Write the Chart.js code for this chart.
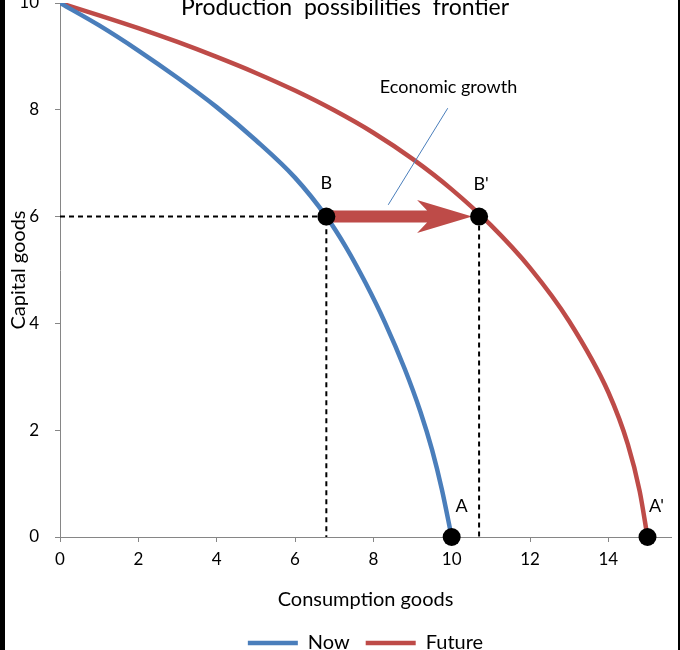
<!DOCTYPE html>
<html>
<head>
<meta charset="utf-8">
<title>Production possibilities frontier</title>
<script src="https://cdn.jsdelivr.net/npm/chart.js@4.4.1/dist/chart.umd.min.js"></script>
<style>
  html, body { margin: 0; padding: 0; background: #fff; overflow: hidden; }
  #wrap { position: relative; width: 680px; height: 650px; overflow: hidden; background: #fff; }
  #ppf { position: absolute; left: 0; top: -24px; }
  .edge { position: absolute; top: 0; height: 650px; background: #000; }
</style>
</head>
<body>
<div id="wrap">
  <canvas id="ppf" width="680" height="687"></canvas>
  <div class="edge" style="left:0;width:5px"></div>
  <div class="edge" style="left:678px;width:2px"></div>
</div>
<script>
// Data
const nowX = [0, 1, 2, 3, 4, 5, 6, 6.8, 7.3, 7.8, 8.3, 8.8, 9.2, 9.5, 9.75, 10];
const nowY = [10, 9.58, 9.11, 8.6, 8.05, 7.43, 6.73, 6.0, 5.43, 4.76, 4.01, 3.15, 2.35, 1.63, 0.89, 0];

const futureX = [0, 1, 2, 3, 4, 5, 6, 7, 8, 9, 10, 11, 12, 13, 14, 14.5, 14.8, 15];
const futureY = [10, 9.77, 9.53, 9.27, 8.99, 8.69, 8.36, 7.99, 7.57, 7.08, 6.51, 5.84, 5.04, 4.04, 2.71, 1.73, 0.86, 0];

const pointNames = ['B', "B'", 'A', "A'"];
const pointX = [6.8, 10.7, 10, 15];
const pointY = [6, 6, 0, 0];

const xTicks = [0, 2, 4, 6, 8, 10, 12, 14];
const yTicks = [0, 2, 4, 6, 8, 10];

const growthText = 'Economic growth';
const growthTextAt = [9.92, 8.42];
const growthLeader = [[9.9, 8.03], [8.38, 6.22]];

const FONT = 'Lato';
const toXY = (xs, ys) => xs.map((v, i) => ({ x: v, y: ys[i] }));

// dashed guides: B down/left to the axes, B' down to the axis
const guides = [
  { x: 0, y: pointY[0] }, { x: pointX[0], y: pointY[0] }, { x: pointX[0], y: 0 },
  { x: pointX[1], y: null },
  { x: pointX[1], y: pointY[1] }, { x: pointX[1], y: 0 }
];

const titlePlugin = {
  id: 'ppfTitle',
  afterDraw(chart) {
    const ctx = chart.ctx;
    ctx.save();
    ctx.font = '23px ' + FONT;
    ctx.fillStyle = '#000';
    ctx.textAlign = 'center';
    ctx.textBaseline = 'alphabetic';
    ctx.fillText('Production  possibilities  frontier', 345, 39);
    ctx.restore();
  }
};

const arrowPlugin = {
  id: 'growthArrow',
  beforeDatasetsDraw(chart) {
    const { ctx, scales: { x, y } } = chart;
    const x0 = x.getPixelForValue(pointX[0]);
    const yc = y.getPixelForValue(pointY[0]);
    const x1 = x.getPixelForValue(pointX[1]) - 7;
    const shaft = 6, headLen = 55, headHalf = 16.5, notch = 10;
    ctx.save();
    ctx.fillStyle = '#BE4B48';
    ctx.beginPath();
    ctx.moveTo(x0, yc - shaft);
    ctx.lineTo(x1 - headLen + notch, yc - shaft);
    ctx.lineTo(x1 - headLen, yc - headHalf);
    ctx.lineTo(x1, yc);
    ctx.lineTo(x1 - headLen, yc + headHalf);
    ctx.lineTo(x1 - headLen + notch, yc + shaft);
    ctx.lineTo(x0, yc + shaft);
    ctx.closePath();
    ctx.fill();
    ctx.restore();
  }
};

const labelPlugin = {
  id: 'pointLabels',
  afterDatasetsDraw(chart) {
    const { ctx, scales: { x, y } } = chart;
    const offs = [[0, -33], [2, -32], [10, -31], [9, -31]];
    ctx.save();
    ctx.fillStyle = '#000';
    ctx.textAlign = 'center';
    ctx.textBaseline = 'middle';
    ctx.font = '18px ' + FONT;
    pointNames.forEach((t, i) => {
      ctx.fillText(t, x.getPixelForValue(pointX[i]) + offs[i][0], y.getPixelForValue(pointY[i]) + offs[i][1]);
    });

    // economic growth note
    ctx.strokeStyle = '#4A7EBB';
    ctx.lineWidth = 1;
    ctx.beginPath();
    ctx.moveTo(x.getPixelForValue(growthLeader[0][0]), y.getPixelForValue(growthLeader[0][1]));
    ctx.lineTo(x.getPixelForValue(growthLeader[1][0]), y.getPixelForValue(growthLeader[1][1]));
    ctx.stroke();
    ctx.font = '18px ' + FONT;
    ctx.fillText(growthText, x.getPixelForValue(growthTextAt[0]), y.getPixelForValue(growthTextAt[1]));
    ctx.restore();
  }
};

const axisGrid = { display: true, drawOnChartArea: false, drawTicks: true, tickLength: 5, color: '#868686' };
const axisBorder = { display: true, color: '#868686', width: 1 };

new Chart(document.getElementById('ppf'), {
  type: 'scatter',
  data: {
    datasets: [
      {
        label: 'Now',
        data: toXY(nowX, nowY),
        showLine: true,
        borderColor: '#4A7EBB',
        backgroundColor: '#4A7EBB',
        borderWidth: 4.5,
        cubicInterpolationMode: 'monotone',
        pointRadius: 0,
        order: 2
      },
      {
        label: 'Future',
        data: toXY(futureX, futureY),
        showLine: true,
        borderColor: '#BE4B48',
        backgroundColor: '#BE4B48',
        borderWidth: 4.5,
        cubicInterpolationMode: 'monotone',
        pointRadius: 0,
        order: 2
      },
      {
        label: 'guides',
        data: guides,
        showLine: true,
        borderColor: '#000',
        borderWidth: 2,
        borderDash: [5, 4],
        pointRadius: 0,
        order: 3
      },
      {
        label: 'points',
        data: toXY(pointX, pointY),
        backgroundColor: '#000',
        borderWidth: 0,
        pointRadius: 9,
        clip: false,
        order: 0
      }
    ]
  },
  options: {
    responsive: false,
    animation: false,
    events: [],
    layout: { padding: { top: 27, left: 0, right: 4, bottom: 0 } },
    scales: {
      x: {
        type: 'linear',
        min: 0,
        max: 15.6,
        grid: axisGrid,
        border: axisBorder,
        afterBuildTicks: s => { s.ticks = xTicks.map(v => ({ value: v })); },
        afterFit: s => { s.height = 80; },
        ticks: { padding: 7, color: '#000', font: { family: FONT, size: 17 } },
        title: { display: true, text: 'Consumption goods', color: '#000', font: { family: FONT, size: 20 }, padding: { top: 0, bottom: 5 } }
      },
      y: {
        type: 'linear',
        min: 0,
        max: 10,
        grid: axisGrid,
        border: axisBorder,
        afterBuildTicks: s => { s.ticks = yTicks.map(v => ({ value: v })); },
        afterFit: s => { s.width = 60; },
        ticks: { padding: 16, color: '#000', font: { family: FONT, size: 17 } },
        title: { display: true, text: 'Capital goods', color: '#000', font: { family: FONT, size: 20 }, padding: { top: 7, bottom: 0 } }
      }
    },
    plugins: {
      title: { display: false },
      tooltip: { enabled: false },
      legend: {
        position: 'bottom',
        fullSize: false,
        labels: {
          filter: item => item.datasetIndex < 2,
          usePointStyle: true,
          pointStyle: 'line',
          pointStyleWidth: 50,
          padding: 16,
          color: '#000',
          font: { family: FONT, size: 20 }
        }
      }
    }
  },
  plugins: [arrowPlugin, labelPlugin, titlePlugin]
});
</script>
</body>
</html>
